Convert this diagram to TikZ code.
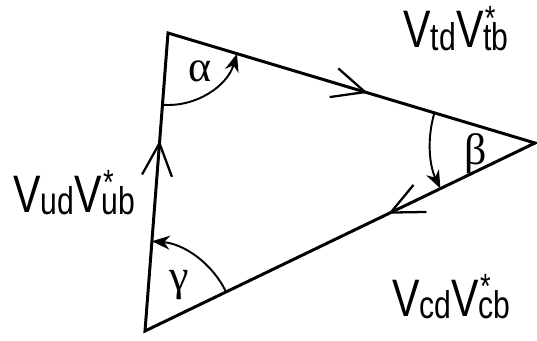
\documentclass[tikz,border=0pt]{standalone}
\usepackage{fontspec}
\setmainfont{Liberation Sans}
\newfontfamily\grkfont{Liberation Serif}
\usetikzlibrary{arrows.meta,decorations.markings,calc}
\newcommand{\vsub}[1]{\raisebox{-1.5pt}{\fontsize{22}{22}\selectfont #1}}
\newcommand{\vstar}{\rlap{\hspace{1pt}\raisebox{10pt}{\fontsize{20}{20}\selectfont *}}}
\newcommand{\ckm}[2]{\scalebox{0.78}[1]{\fontsize{30}{30}\selectfont V\vsub{#1}V\vstar\vsub{#2}}}

\begin{document}
\begin{tikzpicture}[x=0.02cm,y=0.02cm,
  side/.style={line width=1.7pt,line join=miter},
  flow/.style={postaction={decorate,decoration={markings,mark=at position #1 with {\draw[line width=1.3pt] (-6.5mm,3mm) -- (0,0) -- (-6.5mm,-3mm);}}}},
  ang/.style={line width=1.1pt,-{Stealth[length=3.6mm,width=2.8mm]}},
  lbl/.style={inner sep=0pt},
  grk/.style={inner sep=0pt,anchor=base,font=\grkfont\fontsize{25}{25}\selectfont}]
\useasboundingbox (0,0) rectangle (537,-341);
\coordinate (A) at (168,-33);
\coordinate (B) at (535,-143);
\coordinate (C) at (145,-331);
\draw[side] (A) -- (B) -- (C) -- cycle;
% direction markers on the sides
\foreach \p/\q/\f in {A/B/0.537,B/C/0.37,C/A/0.63}
  \path[flow=\f] (\p) -- (\q);
% angles
\draw[ang] ([shift={(265.6:72)}]A) arc[start angle=265.6,end angle=343.3,radius=72];
\draw[ang] ([shift={(163.3:105)}]B) arc[start angle=163.3,end angle=205.7,radius=105];
\draw[ang] ([shift={(25.7:90)}]C) arc[start angle=25.7,end angle=85.6,radius=90];
\node[grk] (alpha) at (200,-82) {α};
\node[grk] (beta) at (476,-164) {β};
\node[grk] (gamma) at (179,-290) {γ};
% side labels
\node[lbl,anchor=base west] (ud) at (13,-212) {\ckm{ud}{ub}};
\node[lbl,anchor=base east] (td) at (509,-48) {\ckm{td}{tb}};
\node[lbl,anchor=base east] (cd) at (511,-316) {\ckm{cd}{cb}};
\end{tikzpicture}
\end{document}
